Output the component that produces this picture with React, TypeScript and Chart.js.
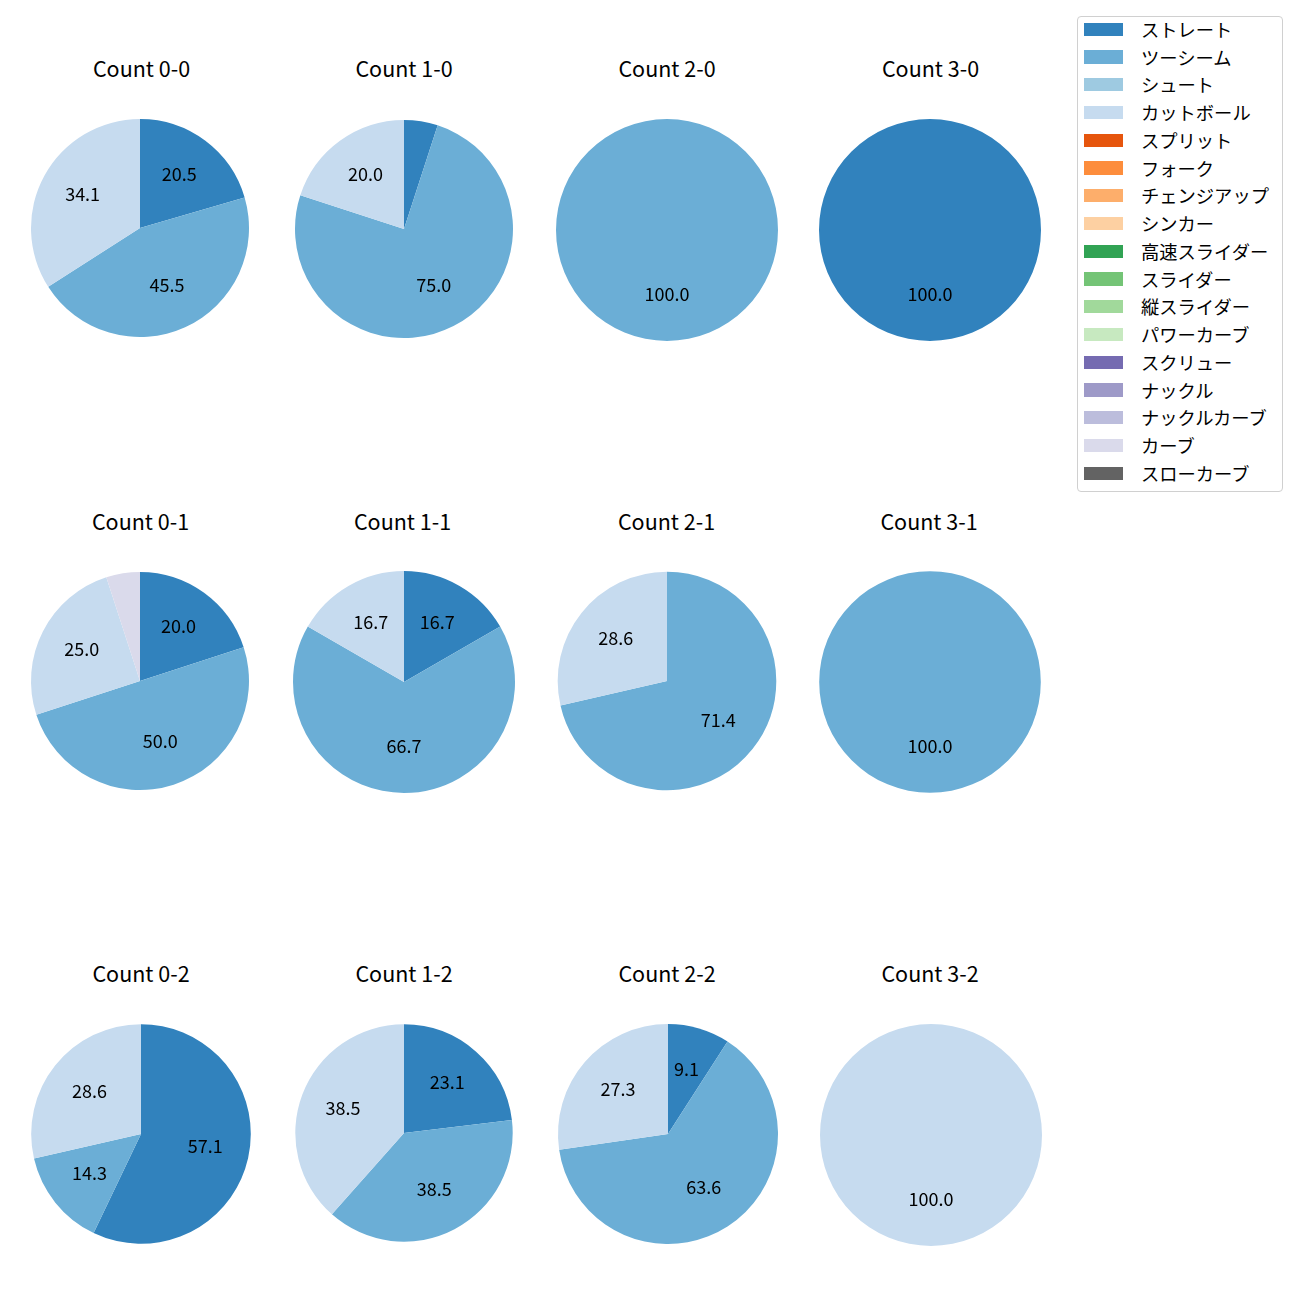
import React, { useEffect, useRef } from "react";
import { Chart, registerables } from "chart.js";

Chart.register(...registerables);

// ---- data ----
const PITCH_TYPES = [
  "ストレート", "ツーシーム", "シュート", "カットボール", "スプリット", "フォーク",
  "チェンジアップ", "シンカー", "高速スライダー", "スライダー", "縦スライダー",
  "パワーカーブ", "スクリュー", "ナックル", "ナックルカーブ", "カーブ", "スローカーブ",
];
const PITCH_COLORS = [
  "#3182bd", "#6baed6", "#9ecae1", "#c6dbef", "#e6550d", "#fd8d3c",
  "#fdae6b", "#fdd0a2", "#31a354", "#74c476", "#a1d99b",
  "#c7e9c0", "#756bb1", "#9e9ac8", "#bcbddc", "#dadaeb", "#636363",
];
const COUNT_TITLES = [
  "Count 0-0", "Count 1-0", "Count 2-0", "Count 3-0",
  "Count 0-1", "Count 1-1", "Count 2-1", "Count 3-1",
  "Count 0-2", "Count 1-2", "Count 2-2", "Count 3-2",
];
//                 ストレ ツー  シュ カット スプ フォ チェ シン 高ス スラ 縦ス パワ スク ナッ ナカ カーブ スロ
const count00 = [20.5, 45.5, 0, 34.1, 0, 0, 0, 0, 0, 0, 0, 0, 0, 0, 0, 0, 0];
const count10 = [5.0, 75.0, 0, 20.0, 0, 0, 0, 0, 0, 0, 0, 0, 0, 0, 0, 0, 0];
const count20 = [0, 100.0, 0, 0, 0, 0, 0, 0, 0, 0, 0, 0, 0, 0, 0, 0, 0];
const count30 = [100.0, 0, 0, 0, 0, 0, 0, 0, 0, 0, 0, 0, 0, 0, 0, 0, 0];
const count01 = [20.0, 50.0, 0, 25.0, 0, 0, 0, 0, 0, 0, 0, 0, 0, 0, 0, 5.0, 0];
const count11 = [16.7, 66.7, 0, 16.7, 0, 0, 0, 0, 0, 0, 0, 0, 0, 0, 0, 0, 0];
const count21 = [0, 71.4, 0, 28.6, 0, 0, 0, 0, 0, 0, 0, 0, 0, 0, 0, 0, 0];
const count31 = [0, 100.0, 0, 0, 0, 0, 0, 0, 0, 0, 0, 0, 0, 0, 0, 0, 0];
const count02 = [57.1, 14.3, 0, 28.6, 0, 0, 0, 0, 0, 0, 0, 0, 0, 0, 0, 0, 0];
const count12 = [23.1, 38.5, 0, 38.5, 0, 0, 0, 0, 0, 0, 0, 0, 0, 0, 0, 0, 0];
const count22 = [9.1, 63.6, 0, 27.3, 0, 0, 0, 0, 0, 0, 0, 0, 0, 0, 0, 0, 0];
const count32 = [0, 0, 0, 100.0, 0, 0, 0, 0, 0, 0, 0, 0, 0, 0, 0, 0, 0];
const COUNT_VALUES = [
  count00, count10, count20, count30,
  count01, count11, count21, count31,
  count02, count12, count22, count32,
];
const LABEL_HIDE_AT_OR_BELOW = 5;

// ---- layout ----
const FONT = '"Noto Sans CJK JP", "Noto Sans", sans-serif';
const SIZE = 250;
const CELLS = [
  { cx: 140, cy: 228, r: 109, tx: 141.5, ty: 68 },
  { cx: 404, cy: 228.7, r: 109, tx: 404, ty: 68 },
  { cx: 667, cy: 229.5, r: 111, tx: 667, ty: 68 },
  { cx: 930, cy: 229.5, r: 111, tx: 930.5, ty: 68 },
  { cx: 140, cy: 681, r: 109, tx: 140.5, ty: 521 },
  { cx: 404.3, cy: 682.2, r: 111, tx: 402.5, ty: 521 },
  { cx: 666.8, cy: 680.5, r: 109.3, tx: 666.5, ty: 521 },
  { cx: 930, cy: 682.2, r: 110.8, tx: 929, ty: 521 },
  { cx: 141.2, cy: 1134.3, r: 109.8, tx: 141, ty: 973 },
  { cx: 404.2, cy: 1133.3, r: 108.7, tx: 404, ty: 973 },
  { cx: 667.7, cy: 1134.2, r: 110, tx: 667, ty: 973 },
  { cx: 930.5, cy: 1135, r: 111, tx: 930, ty: 973 },
];

const pctLabelPlugin = {
  id: "pctLabels",
  afterDatasetsDraw(chart: any) {
    const ctx = chart.ctx;
    const meta = chart.getDatasetMeta(0);
    const data = chart.data.datasets[0].data as number[];
    ctx.save();
    ctx.font = `18px ${FONT}`;
    ctx.fillStyle = "#000";
    ctx.textAlign = "center";
    ctx.textBaseline = "middle";
    meta.data.forEach((arc: any, i: number) => {
      const v = data[i];
      if (!(v > LABEL_HIDE_AT_OR_BELOW)) return;
      const p = arc.getProps(["x", "y", "startAngle", "endAngle", "outerRadius"], true);
      const mid = (p.startAngle + p.endAngle) / 2;
      const d = p.outerRadius * 0.6;
      ctx.fillText(v.toFixed(1), p.x + Math.cos(mid) * d, p.y + Math.sin(mid) * d - 2);
    });
    ctx.restore();
  },
};

function Pie({ values, cell }: { values: number[]; cell: any }) {
  const ref = useRef<HTMLCanvasElement>(null);
  useEffect(() => {
    if (!ref.current) return;
    const chart = new Chart(ref.current, {
      type: "pie",
      data: {
        labels: PITCH_TYPES,
        datasets: [{ data: values, backgroundColor: PITCH_COLORS, borderWidth: 0 }],
      },
      options: {
        responsive: false,
        animation: false,
        devicePixelRatio: 1,
        radius: cell.r,
        events: [],
        layout: { padding: 0 },
        plugins: {
          legend: { display: false },
          tooltip: { enabled: false },
          title: { display: false },
        },
      } as any,
      plugins: [pctLabelPlugin],
    });
    return () => chart.destroy();
  }, []);
  return (
    <canvas
      ref={ref}
      width={SIZE}
      height={SIZE}
      style={{
        position: "absolute",
        left: Math.round(cell.cx - SIZE / 2),
        top: Math.round(cell.cy - SIZE / 2),
        width: SIZE,
        height: SIZE,
      }}
    />
  );
}

const LEGEND = { left: 1077, top: 16, width: 206, height: 476, firstRow: 29.3, rowStep: 27.75 };

export default function App() {
  return (
    <div style={{ position: "absolute", left: 0, top: 0, width: 1300, height: 1300, background: "#fff", fontFamily: FONT }}>
      {COUNT_VALUES.map((vals, i) => (
        <React.Fragment key={i}>
          <Pie values={vals} cell={CELLS[i]} />
          <div
            style={{
              position: "absolute",
              left: CELLS[i].tx - 100,
              width: 200,
              top: CELLS[i].ty - 15,
              height: 30,
              lineHeight: "30px",
              textAlign: "center",
              fontSize: 21.5,
              color: "#000",
              whiteSpace: "nowrap",
            }}
          >
            {COUNT_TITLES[i]}
          </div>
        </React.Fragment>
      ))}
      <div
        style={{
          position: "absolute",
          left: LEGEND.left,
          top: LEGEND.top,
          width: LEGEND.width,
          height: LEGEND.height,
          boxSizing: "border-box",
          border: "1px solid #d0d0d0",
          borderRadius: 4,
          background: "rgba(255,255,255,0.8)",
        }}
      />
      {PITCH_TYPES.map((name, i) => {
        const cy = LEGEND.firstRow + i * LEGEND.rowStep;
        return (
          <React.Fragment key={name}>
            <div
              style={{
                position: "absolute",
                left: 1084,
                top: cy - 6.7,
                width: 39,
                height: 13.4,
                background: PITCH_COLORS[i],
              }}
            />
            <div
              style={{
                position: "absolute",
                left: 1141,
                top: cy - 13.5,
                height: 26,
                lineHeight: "26px",
                fontSize: 18.3,
                color: "#000",
                whiteSpace: "nowrap",
              }}
            >
              {name}
            </div>
          </React.Fragment>
        );
      })}
    </div>
  );
}
